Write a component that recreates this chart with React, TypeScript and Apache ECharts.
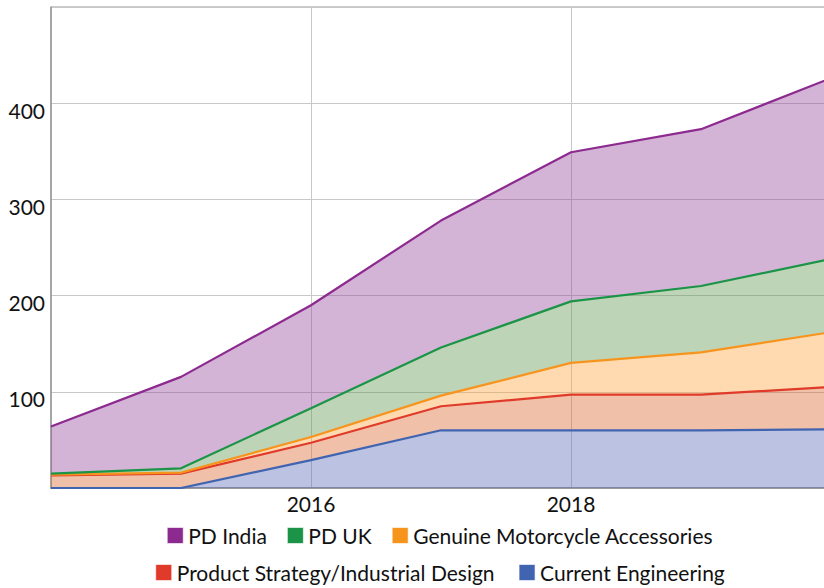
import React, { useEffect, useRef } from "react";
import * as echarts from "echarts";

const years = ["2014", "2015", "2016", "2017", "2018", "2019", "2020"];
const currentEngineering = [0, 0, 29, 60, 60, 60, 61];
const productStrategy = [13, 15, 18, 25, 37, 37, 44];
const genuineAccessories = [1, 1, 6, 11, 33, 44, 57];
const pdUK = [1, 4.5, 30, 50, 64, 69, 76];
const pdIndia = [49, 95, 107, 132, 155, 163, 188];

const legendRow1 = ["PD India", "PD UK", "Genuine Motorcycle Accessories"];
const legendRow2 = ["Product Strategy/Industrial Design", "Current Engineering"];

const FONT = "Lato";

export default function App() {
  const ref = useRef<HTMLDivElement>(null);
  useEffect(() => {
    if (!ref.current) return;
    const chart = echarts.init(ref.current, undefined, { renderer: "svg" });
    const mk = (name: string, data: number[], line: string, fill: string) => ({
      name,
      type: "line",
      stack: "total",
      data,
      symbol: "none",
      lineStyle: { color: line, width: 2.2 },
      itemStyle: { color: line },
      areaStyle: { color: fill, opacity: 1 },
      z: 3,
    });
    const legendBase = {
      left: "center",
      icon: "rect",
      itemWidth: 16,
      itemHeight: 16,
      itemGap: 20,
      itemStyle: { borderColor: "rgba(255,255,255,0.6)", borderWidth: 1 },
      textStyle: { fontFamily: FONT, fontSize: 21, color: "#111" },
      selectedMode: false,
    };
    chart.setOption({
      animation: false,
      grid: { left: 51, top: 7, right: 49, bottom: 100, show: true, borderColor: "#999", borderWidth: 1 },
      legend: [
        { ...legendBase, top: 520, data: legendRow1 },
        { ...legendBase, top: 557, itemGap: 24, data: legendRow2 },
      ],
      xAxis: {
        type: "category",
        boundaryGap: false,
        data: years,
        axisTick: { show: false },
        axisLine: { lineStyle: { color: "#999", width: 2 } },
        axisLabel: {
          interval: (i: number) => i === 2 || i === 4,
          fontFamily: FONT,
          fontSize: 21,
          color: "#111",
          margin: 5,
        },
        splitLine: {
          show: true,
          interval: (i: number) => i === 2 || i === 4,
          lineStyle: { color: "#c8c8c8", width: 1 },
        },
      },
      yAxis: {
        type: "value",
        min: 0,
        max: 500,
        interval: 100,
        axisLine: { show: true, lineStyle: { color: "#999", width: 1.5 } },
        axisTick: { show: false },
        axisLabel: {
          showMinLabel: false,
          showMaxLabel: false,
          fontFamily: FONT,
          fontSize: 21,
          color: "#111",
          margin: 6,
          verticalAlign: "top",
          lineHeight: 14,
        },
        splitLine: { lineStyle: { color: "#c8c8c8", width: 1 } },
      },
      series: [
        mk("Current Engineering", currentEngineering, "#4164b0", "rgba(85,102,182,0.4)"),
        mk("Product Strategy/Industrial Design", productStrategy, "#e03a2a", "rgba(220,97,37,0.4)"),
        mk("Genuine Motorcycle Accessories", genuineAccessories, "#f7941e", "rgba(255,162,57,0.4)"),
        mk("PD UK", pdUK, "#1b9447", "rgba(90,147,75,0.4)"),
        mk("PD India", pdIndia, "#8c2a8f", "rgba(148,68,153,0.4)"),
      ],
    });
    return () => chart.dispose();
  }, []);
  return (
    <div style={{ position: "absolute", left: 0, top: 0, width: 824, height: 588, overflow: "hidden", background: "#fff" }}>
      <div ref={ref} style={{ width: 880, height: 588 }} />
    </div>
  );
}
